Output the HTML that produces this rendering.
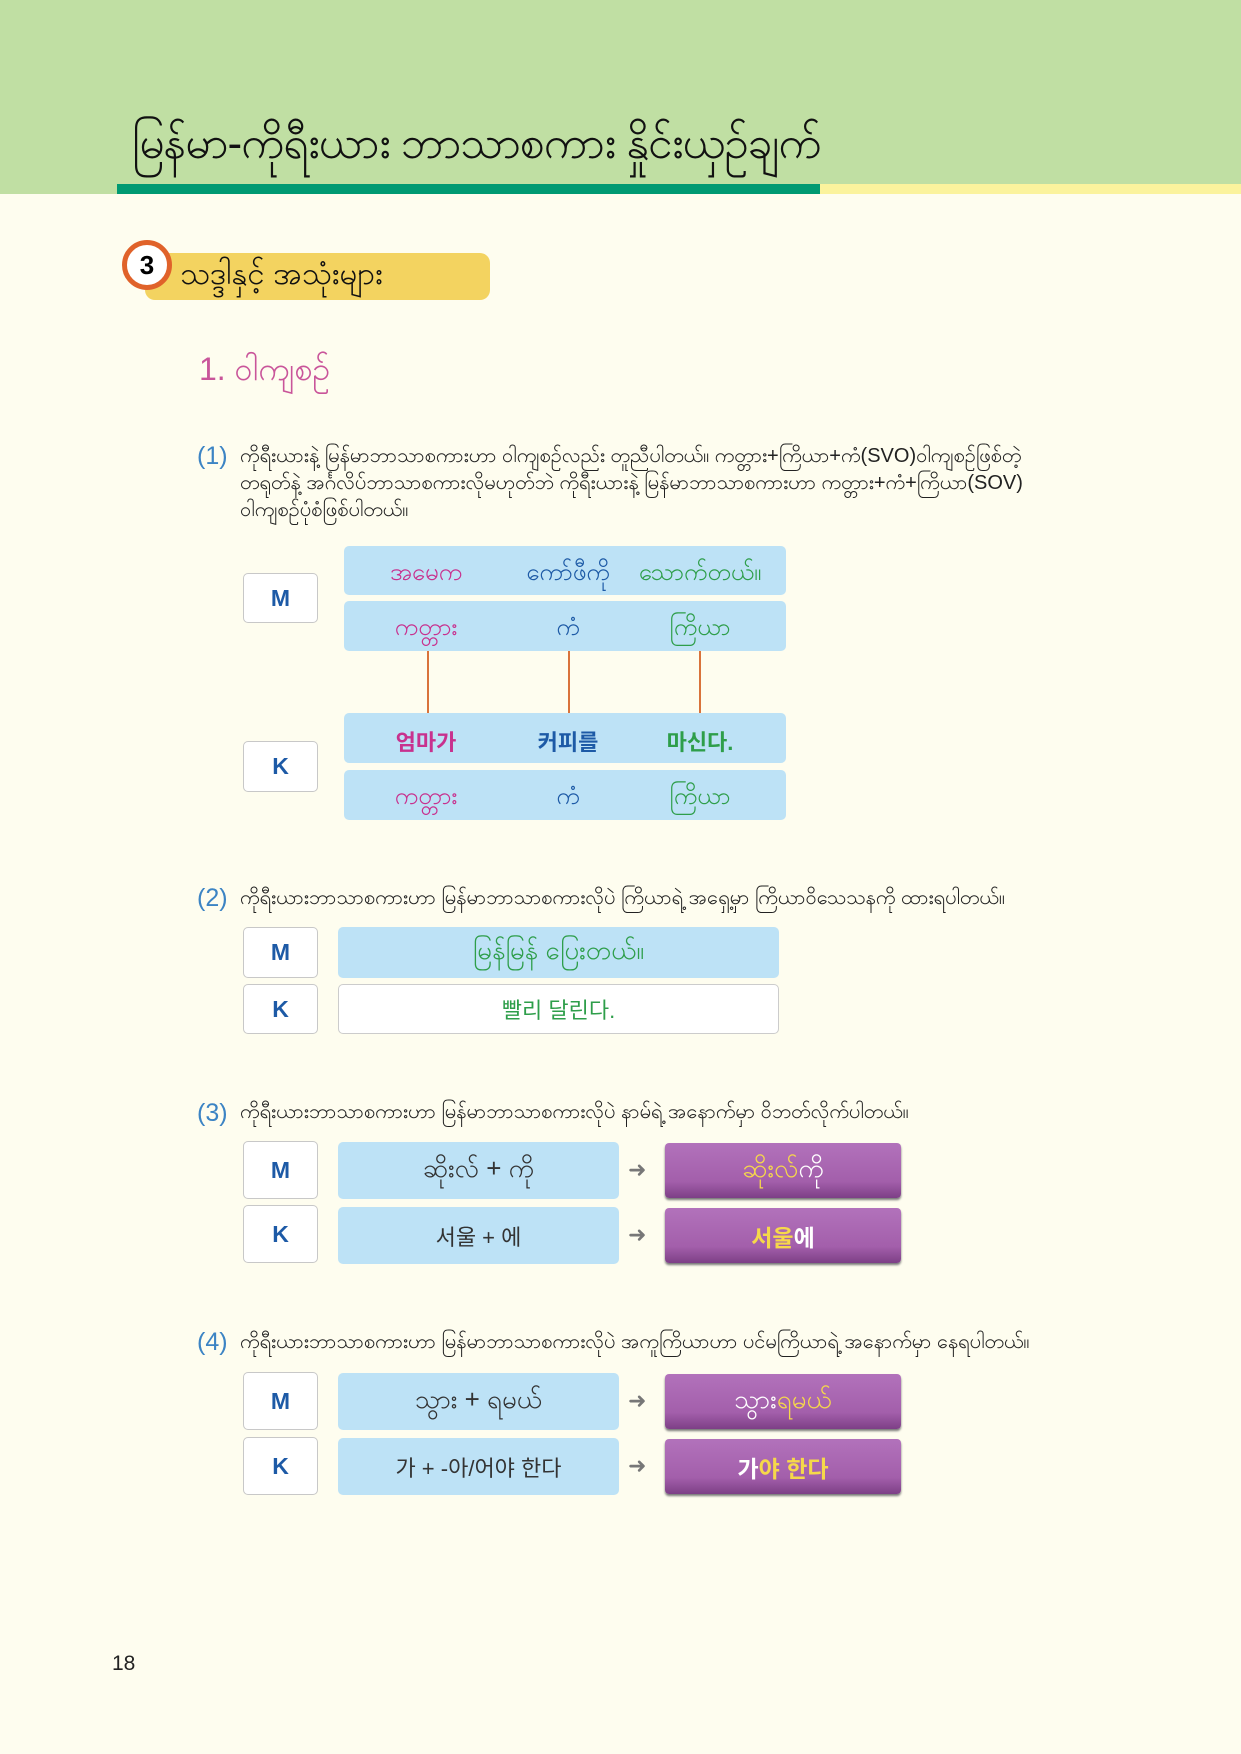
<!DOCTYPE html>
<html><head><meta charset="utf-8"><style>
body{margin:0;width:1241px;height:1754px;background:#fefdef;position:relative;overflow:hidden;font-family:"Liberation Sans","Noto Sans CJK KR",sans-serif;}
.a{position:absolute}
.hdr{left:0;top:0;width:1241px;height:194px;background:#c0dfa3}
.lbl{position:absolute;background:#fff;border:1px solid #c8c8c8;border-radius:5px;color:#1d5aa6;font-weight:bold;font-size:23px;display:flex;align-items:center;justify-content:center;box-sizing:border-box}
.bl{position:absolute;background:#bde2f6;border-radius:5px;display:flex;align-items:center;justify-content:center;font-size:23px;color:#333}
.c{position:absolute;transform:translateX(-50%);top:50%;margin-top:-15px;font-size:24px;white-space:nowrap}
.pu{position:absolute;background:linear-gradient(#b272bb,#a35fab 70%,#7d3f86);border-radius:4px;display:flex;align-items:center;justify-content:center;font-size:23px;font-weight:bold;color:#fff;box-shadow:0 2px 2px #777}
.ar{position:absolute;color:#777;font-size:22px}
.p{position:absolute;font-size:20px;color:#222;line-height:27px;white-space:nowrap}
.n{position:absolute;font-size:25px;color:#3c84c4}
.my{font-size:26px}
</style></head><body>
<div class="a hdr"></div>
<div class="a" style="left:132px;top:116px;font-size:44px;color:#111;letter-spacing:-1px">မြန်မာ-ကိုရီးယား ဘာသာစကား နှိုင်းယှဉ်ချက်</div>
<div class="a" style="left:117px;top:184px;width:703px;height:10px;background:#009a72"></div>
<div class="a" style="left:820px;top:184px;width:421px;height:10px;background:#fbf39d"></div>

<div class="a" style="left:145px;top:253px;width:345px;height:47px;background:#f3d360;border-radius:10px"></div>
<div class="a" style="left:122px;top:240px;width:40px;height:40px;border-radius:50%;background:#fff;border:5px solid #e0622a;font-weight:bold;font-size:26px;text-align:center;line-height:40px">3</div>
<div class="a" style="left:180px;top:254px;font-size:31px;color:#111">သဒ္ဒါနှင့် အသုံးများ</div>
<div class="a" style="left:199px;top:348px;font-size:32px;color:#c9559a">1. ဝါကျစဉ်</div>

<div class="n" style="left:197px;top:442px">(1)</div>
<div class="p" style="left:240px;top:443px">ကိုရီးယားနဲ့ မြန်မာဘာသာစကားဟာ ဝါကျစဉ်လည်း တူညီပါတယ်။ ကတ္တား+ကြိယာ+ကံ(SVO)ဝါကျစဉ်ဖြစ်တဲ့<br>တရုတ်နဲ့ အင်္ဂလိပ်ဘာသာစကားလိုမဟုတ်ဘဲ ကိုရီးယားနဲ့ မြန်မာဘာသာစကားဟာ ကတ္တား+ကံ+ကြိယာ(SOV)<br>ဝါကျစဉ်ပုံစံဖြစ်ပါတယ်။</div>

<div class="lbl" style="left:243px;top:573px;width:75px;height:50px">M</div>
<div class="lbl" style="left:243px;top:741px;width:75px;height:51px">K</div>
<div class="bl" style="left:344px;top:546px;width:442px;height:49px"><span class="c" style="left:82px;color:#c8318e">အမေက</span><span class="c" style="left:224px;color:#1d5aa6">ကော်ဖီကို</span><span class="c" style="left:356px;color:#2e9e4a">သောက်တယ်။</span></div>
<div class="bl" style="left:344px;top:601px;width:442px;height:50px"><span class="c" style="left:82px;color:#c8318e">ကတ္တား</span><span class="c" style="left:224px;color:#1d5aa6">ကံ</span><span class="c" style="left:356px;color:#2e9e4a">ကြိယာ</span></div>
<div class="a" style="left:427px;top:651px;width:2px;height:62px;background:#d9733b"></div>
<div class="a" style="left:568px;top:651px;width:2px;height:62px;background:#d9733b"></div>
<div class="a" style="left:699px;top:651px;width:2px;height:62px;background:#d9733b"></div>
<div class="bl" style="left:344px;top:713px;width:442px;height:50px"><span class="c" style="left:82px;color:#c8318e;font-weight:bold;font-size:22px;margin-top:-13px">엄마가</span><span class="c" style="left:224px;color:#1d5aa6;font-weight:bold;font-size:22px;margin-top:-13px">커피를</span><span class="c" style="left:356px;color:#2e9e4a;font-weight:bold;font-size:22px;margin-top:-13px">마신다.</span></div>
<div class="bl" style="left:344px;top:770px;width:442px;height:50px"><span class="c" style="left:82px;color:#c8318e">ကတ္တား</span><span class="c" style="left:224px;color:#1d5aa6">ကံ</span><span class="c" style="left:356px;color:#2e9e4a">ကြိယာ</span></div>

<div class="n" style="left:197px;top:884px">(2)</div>
<div class="p" style="left:240px;top:885px">ကိုရီးယားဘာသာစကားဟာ မြန်မာဘာသာစကားလိုပဲ ကြိယာရဲ့ အရှေ့မှာ ကြိယာဝိသေသနကို ထားရပါတယ်။</div>
<div class="lbl" style="left:243px;top:927px;width:75px;height:51px">M</div>
<div class="lbl" style="left:243px;top:984px;width:75px;height:50px">K</div>
<div class="bl my" style="left:338px;top:927px;width:441px;height:51px;color:#2e9e4a">မြန်မြန် ပြေးတယ်။</div>
<div class="bl" style="left:338px;top:984px;width:441px;height:50px;background:#fff;border:1px solid #ccc;box-sizing:border-box;color:#2e9e4a;font-size:22px">빨리 달린다.</div>

<div class="n" style="left:197px;top:1099px">(3)</div>
<div class="p" style="left:240px;top:1099px">ကိုရီးယားဘာသာစကားဟာ မြန်မာဘာသာစကားလိုပဲ နာမ်ရဲ့ အနောက်မှာ ဝိဘတ်လိုက်ပါတယ်။</div>
<div class="lbl" style="left:243px;top:1141px;width:75px;height:58px">M</div>
<div class="lbl" style="left:243px;top:1205px;width:75px;height:58px">K</div>
<div class="bl my" style="left:338px;top:1142px;width:281px;height:57px">ဆိုးလ် + ကို</div>
<div class="bl" style="left:338px;top:1207px;width:281px;height:57px;font-size:22px">서울 + 에</div>
<div class="ar" style="left:628px;top:1157px">➜</div>
<div class="ar" style="left:628px;top:1222px">➜</div>
<div class="pu my" style="left:665px;top:1143px;width:236px;height:55px;font-weight:normal"><span style="color:#f6d84a">ဆိုးလ်</span>ကို</div>
<div class="pu" style="left:665px;top:1208px;width:236px;height:55px"><span style="color:#f6d84a">서울</span>에</div>

<div class="n" style="left:197px;top:1328px">(4)</div>
<div class="p" style="left:240px;top:1329px">ကိုရီးယားဘာသာစကားဟာ မြန်မာဘာသာစကားလိုပဲ အကူကြိယာဟာ ပင်မကြိယာရဲ့ အနောက်မှာ နေရပါတယ်။</div>
<div class="lbl" style="left:243px;top:1372px;width:75px;height:58px">M</div>
<div class="lbl" style="left:243px;top:1437px;width:75px;height:58px">K</div>
<div class="bl my" style="left:338px;top:1373px;width:281px;height:57px">သွား + ရမယ်</div>
<div class="bl" style="left:338px;top:1438px;width:281px;height:57px;font-size:22px">가 + -아/어야 한다</div>
<div class="ar" style="left:628px;top:1388px">➜</div>
<div class="ar" style="left:628px;top:1453px">➜</div>
<div class="pu my" style="left:665px;top:1374px;width:236px;height:55px;font-weight:normal">သွား<span style="color:#f6d84a">ရမယ်</span></div>
<div class="pu" style="left:665px;top:1439px;width:236px;height:55px">가<span style="color:#f6d84a">야 한다</span></div>

<div class="a" style="left:112px;top:1652px;font-size:21px;color:#222">18</div>
</body></html>
